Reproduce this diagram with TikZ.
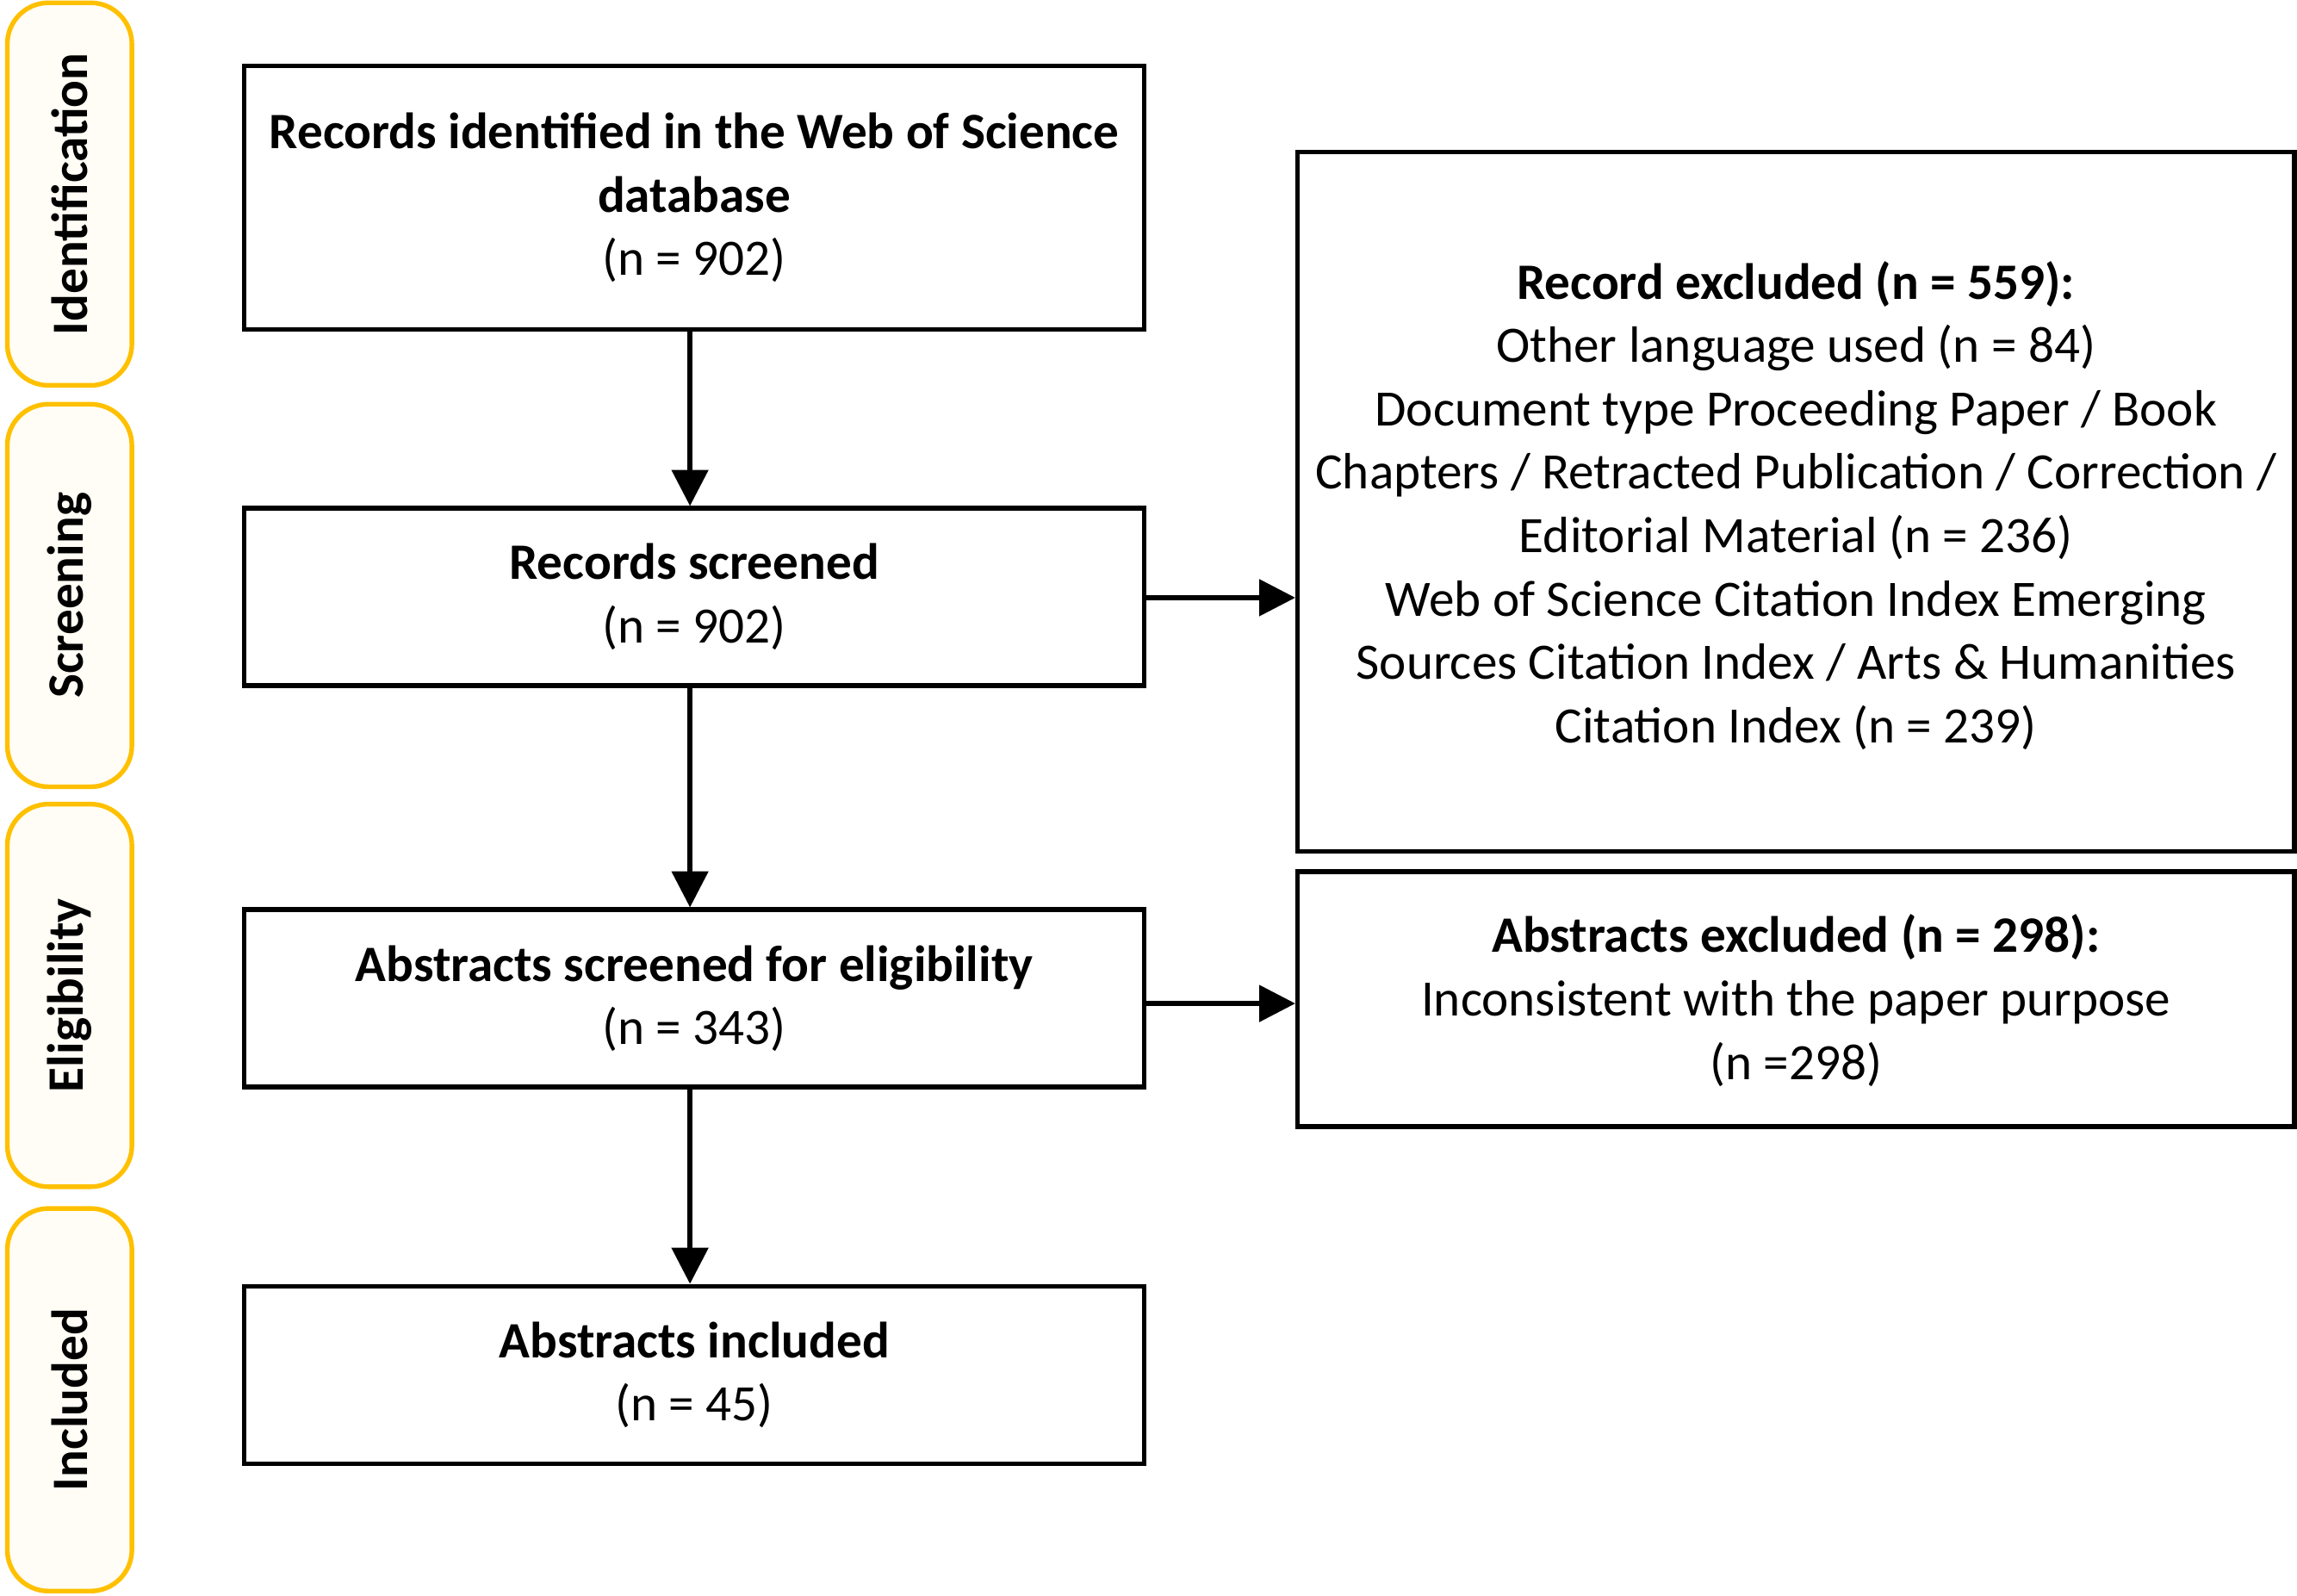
\documentclass[tikz,border=0pt]{standalone}
\usepackage{fontspec}
\setmainfont{Carlito}
\usetikzlibrary{arrows.meta}
\definecolor{ylw}{HTML}{FFC000}
\definecolor{ylwfill}{HTML}{FFFDF5}
\begin{document}
\begin{tikzpicture}[x=0.01cm,y=-0.01cm,
  fnt/.style={font=\fontsize{9.9}{12.3}\selectfont},
  box/.style={draw,line width=0.9pt,rectangle,align=center,inner sep=0pt,fnt},
  side/.style={draw=ylw,fill=ylwfill,line width=0.9pt,rounded corners=8pt,rectangle,inner sep=0pt,minimum width=0.85cm},
  sidet/.style={rotate=90,font=\fontsize{9.9}{12.3}\selectfont\bfseries},
  arr/.style={-{Triangle[length=7pt,width=7pt]},line width=0.9pt}]
\useasboundingbox (0,0) rectangle (1568,1089);
% side labels
\node[side,minimum height=2.61cm] (s1) at (47.5,132.5) {};
\node[sidet] (t1) at (s1) {Identification};
\node[side,minimum height=2.61cm] (s2) at (47.5,406.5) {};
\node[sidet] (t2) at (s2) {Screening};
\node[side,minimum height=2.61cm] (s3) at (47.5,679.5) {};
\node[sidet] (t3) at (s3) {Eligibility};
\node[side,minimum height=2.61cm] (s4) at (47.5,955.5) {};
\node[sidet] (t4) at (s4) {Included};
% main boxes
\node[box,minimum width=6.14cm,minimum height=1.80cm] (b1) at (474,135) {\textbf{Records identified in the Web of Science}\\\textbf{database}\\(n = 902)};
\node[box,minimum width=6.14cm,minimum height=1.21cm] (b2) at (474,407.5) {\textbf{Records screened}\\(n = 902)};
\node[box,minimum width=6.14cm,minimum height=1.21cm] (b3) at (474,681.5) {\textbf{Abstracts screened for eligibility}\\(n = 343)};
\node[box,minimum width=6.14cm,minimum height=1.21cm] (b4) at (474,938.5) {\textbf{Abstracts included}\\(n = 45)};
% right boxes
\node[box,minimum width=6.80cm,minimum height=4.77cm] (r1) at (1226,342.5) {};
\node[align=center,fnt] (r1t) at (1226,345) {\textbf{Record excluded (n = 559):}\\Other language used (n = 84)\\Document type Proceeding Paper / Book\\Chapters / Retracted Publication / Correction /\\Editorial Material (n = 236)\\Web of Science Citation Index Emerging\\Sources Citation Index / Arts \& Humanities\\Citation Index (n = 239)};
\node[box,minimum width=6.80cm,minimum height=1.74cm] (r2) at (1226,682) {};
\node[align=center,fnt] (r2t) at (1226,683) {\textbf{Abstracts excluded (n = 298):}\\Inconsistent with the paper purpose\\(n =298)};
% arrows
\draw[arr] (b1.south -| 471,0) -- (b2.north -| 471,0);
\draw[arr] (b2.south -| 471,0) -- (b3.north -| 471,0);
\draw[arr] (b3.south -| 471,0) -- (b4.north -| 471,0);
\draw[arr] (b2.east |- 0,408) -- (r1.west |- 0,408);
\draw[arr] (b3.east |- 0,685) -- (r2.west |- 0,685);
\end{tikzpicture}
\end{document}
